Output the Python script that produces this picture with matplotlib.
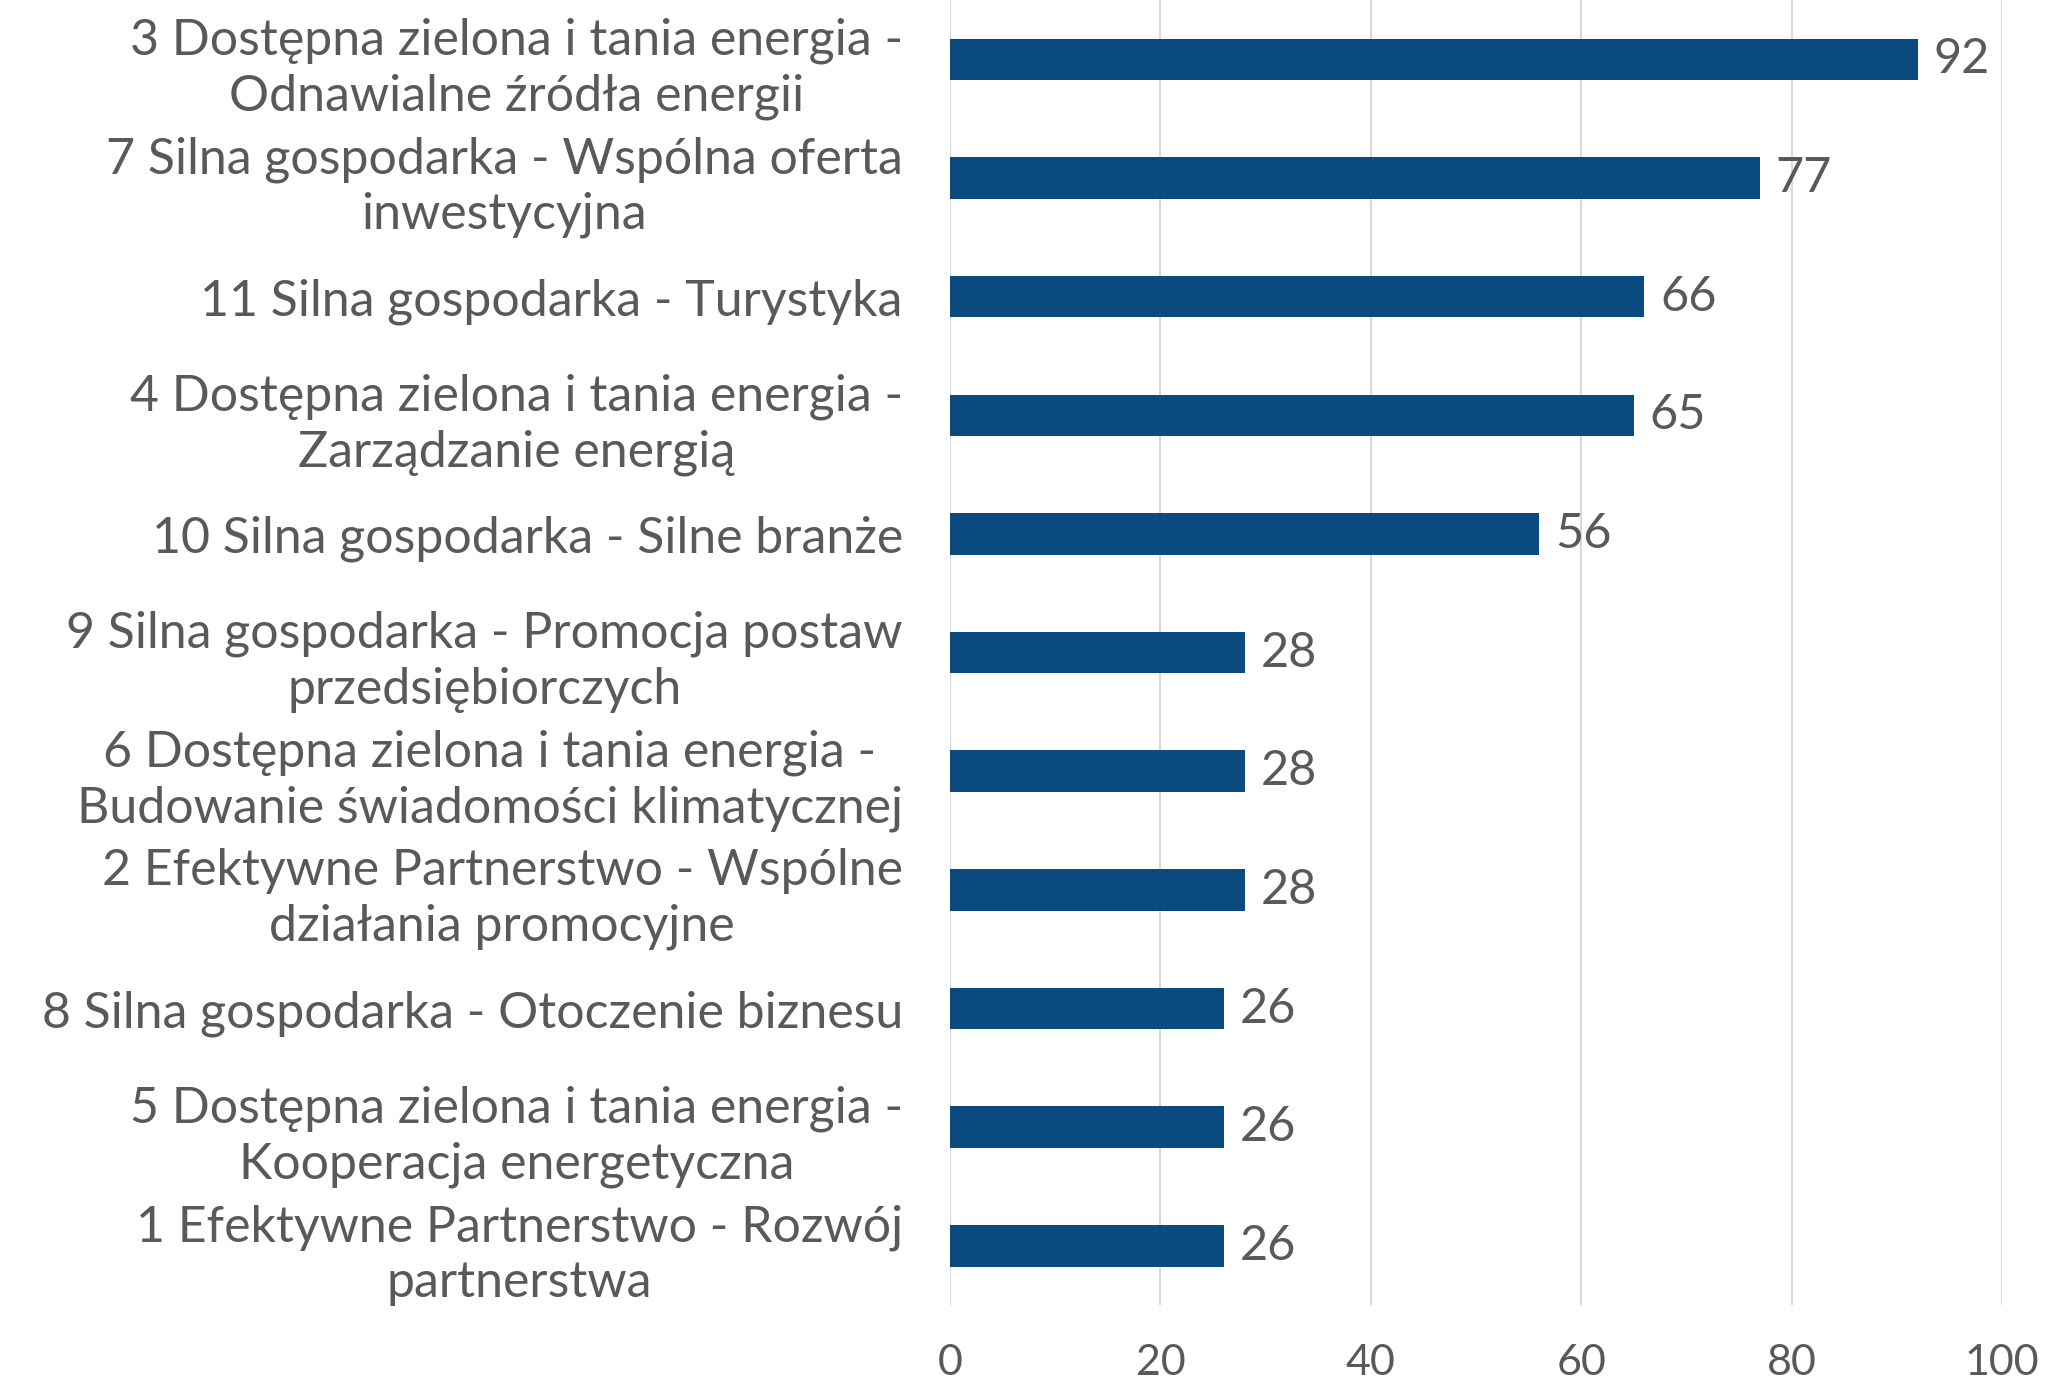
import matplotlib.pyplot as plt

labels = [
    "3 Dostępna zielona i tania energia -\nOdnawialne źródła energii",
    "7 Silna gospodarka - Wspólna oferta\ninwestycyjna",
    "11 Silna gospodarka - Turystyka",
    "4 Dostępna zielona i tania energia -\nZarządzanie energią",
    "10 Silna gospodarka - Silne branże",
    "9 Silna gospodarka - Promocja postaw\nprzedsiębiorczych",
    "6 Dostępna zielona i tania energia -\nBudowanie świadomości klimatycznej",
    "2 Efektywne Partnerstwo - Wspólne\ndziałania promocyjne",
    "8 Silna gospodarka - Otoczenie biznesu",
    "5 Dostępna zielona i tania energia -\nKooperacja energetyczna",
    "1 Efektywne Partnerstwo - Rozwój\npartnerstwa",
]
values = [92, 77, 66, 65, 56, 28, 28, 28, 26, 26, 26]
xticks = [0, 20, 40, 60, 80, 100]

plt.rcParams['font.family'] = ['Lato', 'DejaVu Sans']
grey = '#595959'

fig = plt.figure(figsize=(20.54, 13.87), dpi=100)
ax = fig.add_axes([0.4625, 0.059, 0.5122, 0.941])

y = list(range(len(values)))
bars = ax.barh(y, values, height=0.35, color='#0A4A7F', zorder=3)
for yi, v in zip(y, values):
    ax.text(v + 1.5, yi, str(v), va='center', ha='left', fontsize=35, color=grey)

ax.set_ylim(len(values) - 0.5, -0.5)
ax.set_xlim(0, 100)
ax.set_xticks(xticks)
ax.set_yticks(y)
ax.set_yticklabels(labels, multialignment='center', linespacing=1.25)
ax.tick_params(axis='y', length=0, pad=34, labelsize=36, labelcolor=grey)
ax.tick_params(axis='x', length=0, pad=28, labelsize=31, labelcolor=grey)
ax.grid(axis='x', color='#D9D9D9', linewidth=1.5, zorder=0)
for s in ax.spines.values():
    s.set_visible(False)

fig.savefig('out.png', dpi=100)
